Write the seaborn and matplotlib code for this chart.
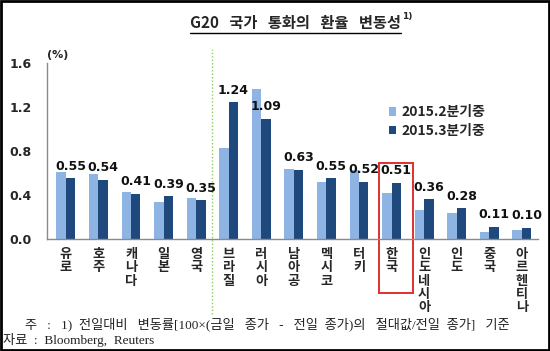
import pandas as pd
import matplotlib
matplotlib.use('Agg')
import matplotlib.pyplot as plt
from matplotlib.patches import Rectangle
from matplotlib.lines import Line2D
import seaborn as sns

# 데이터
countries = ['유로', '호주', '캐나다', '일본', '영국', '브라질', '러시아', '남아공',
             '멕시코', '터키', '한국', '인도네시아', '인도', '중국', '아르헨티나']
q2 = [0.61, 0.59, 0.43, 0.34, 0.37, 0.83, 1.36, 0.64, 0.52, 0.63, 0.42, 0.26, 0.24, 0.06, 0.085]
q3 = [0.55, 0.54, 0.41, 0.39, 0.35, 1.24, 1.09, 0.63, 0.55, 0.52, 0.51, 0.36, 0.28, 0.11, 0.10]
series = ['2015.2분기중', '2015.3분기중']
yticks = [0.0, 0.4, 0.8, 1.2, 1.6]

df = pd.DataFrame({
    '국가': countries * 2,
    '변동성': q2 + q3,
    '기간': [series[0]] * len(countries) + [series[1]] * len(countries),
})

sns.set_style('white')
plt.rcParams['font.family'] = ['Noto Sans CJK KR', 'DejaVu Sans']
plt.rcParams['axes.unicode_minus'] = False

fig = plt.figure(figsize=(5.5, 3.51), dpi=100)
ax = fig.add_axes([0.0855, 0.319, 0.893, 0.502])

sns.barplot(data=df, x='국가', y='변동성', hue='기간', order=countries, hue_order=series,
            palette=['#8EB4E3', '#1F497D'], width=0.58, linewidth=0, saturation=1, ax=ax)

# 막대 위 수치 (3분기)
ax.bar_label(ax.containers[1], labels=[f'{v:.2f}' for v in q3], padding=4,
             fontsize=9, fontweight='bold', family='DejaVu Sans', color='#111111')

ax.set_xlim(-0.58, 14.5)
ax.set_ylim(0, 1.6)
ax.set_yticks(yticks)
ax.set_yticklabels([f'{v:.1f}' for v in yticks], fontsize=9, fontweight='bold',
                   family='DejaVu Sans')
ax.set_xticks(range(len(countries)))
ax.set_xticklabels(['\n'.join(c) for c in countries], fontsize=9.5, fontweight='bold',
                   va='top', linespacing=0.92)
ax.set_xticks([i + 0.5 for i in range(len(countries) - 1)], minor=True)
ax.tick_params(axis='x', which='major', length=0, pad=6)
ax.tick_params(axis='x', which='minor', length=3, color='#808080', width=0.8, direction='out')
ax.tick_params(axis='y', length=3, color='#808080', width=0.8, pad=8, direction='out')
ax.set_xlabel('')
ax.set_ylabel('')
sns.despine(ax=ax)
for s in ['left', 'bottom']:
    ax.spines[s].set_color('#8a8a8a')
    ax.spines[s].set_linewidth(1)

# 선진국/신흥국 구분선
ax.axvline(4.5, ymin=-0.425, ymax=1.08, color='#8fce5a', lw=1, ls=(0, (1, 1.5)), clip_on=False)

# 한국 강조
ax.add_patch(Rectangle((9.6, -0.49), 1.05, 1.18, fill=False, edgecolor='#e03030',
                       lw=1.4, clip_on=False))

leg = ax.legend(loc='upper left', bbox_to_anchor=(0.67, 0.83), frameon=False,
                handlelength=0.55, handleheight=0.55, handletextpad=0.35,
                labelspacing=0.35, prop={'size': 10, 'weight': 'bold'})

fig.text(0.104, 0.843, '(%)', fontsize=8, fontweight='bold', ha='center', va='center',
         family='DejaVu Sans')

# 제목 + 밑줄
title = fig.text(0.537, 0.935, 'G20   국가   통화의   환율   변동성', fontsize=11,
                 fontweight='bold', ha='center', va='center')
fig.canvas.draw()
bb = title.get_window_extent().transformed(fig.transFigure.inverted())
fig.text(bb.x1 + 0.003, bb.y1 - 0.004, '1)', fontsize=6.5, fontweight='bold',
         ha='left', va='center', family='DejaVu Sans')
fig.add_artist(Line2D([bb.x0, bb.x1], [bb.y0 - 0.006, bb.y0 - 0.006],
                      transform=fig.transFigure, color='black', lw=1))

# 주석
note_font = ['Liberation Serif', 'Noto Sans CJK KR']
fig.text(0.045, 0.077, '주   :   1)  전일대비   변동률[100×(금일   종가   -   전일  종가)의'
         '   절대값/전일  종가]   기준',
         fontsize=9.5, family=note_font, ha='left', va='center', color='#222222')
fig.text(0.006, 0.031, '자료  :  Bloomberg,  Reuters', fontsize=9.5, family=note_font,
         ha='left', va='center', color='#222222')

# 테두리
fig.add_artist(Rectangle((0.002, 0.003), 0.996, 0.994, transform=fig.transFigure,
                         fill=False, edgecolor='black', lw=2))

fig.savefig('out.png', dpi=100)
